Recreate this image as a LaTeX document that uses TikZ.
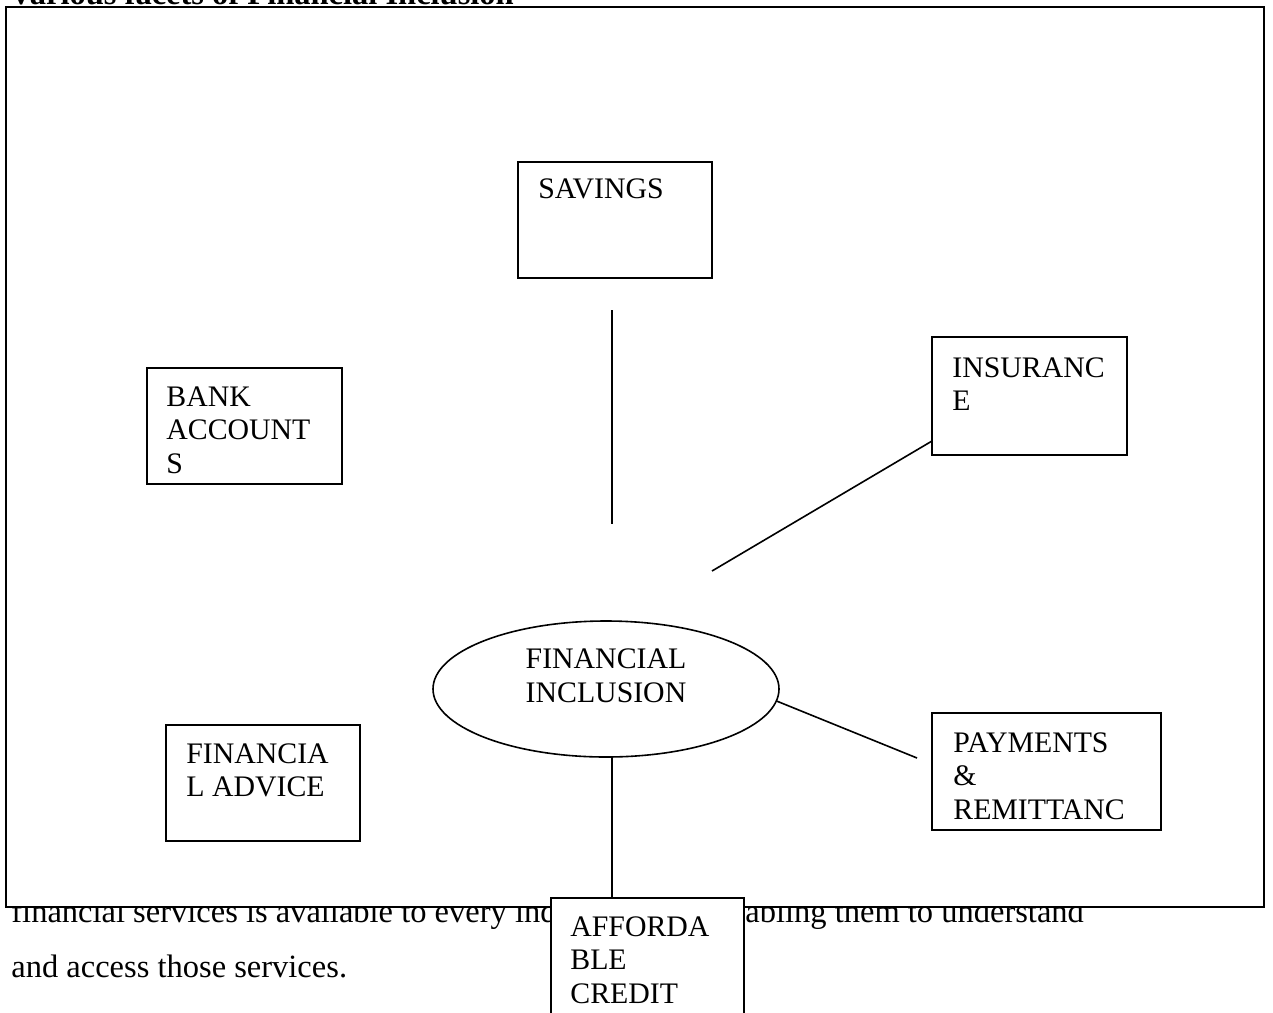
\documentclass[tikz,border=0pt]{standalone}
\usepackage{fontspec}
\setmainfont{Liberation Serif}
\usetikzlibrary{shapes.geometric,positioning}
\tikzset{
  facet/.style={draw,line width=0.8pt,fill=white,inner sep=0pt,outer sep=0pt,anchor=north west},
  facettext/.style={inner sep=0pt,align=left,font=\fontsize{14.9pt}{16.75pt}\selectfont},
  hub/.style={ellipse,draw,line width=0.8pt,inner sep=0pt,outer sep=0pt,
    minimum width=173pt,minimum height=68pt},
  bodytext/.style={inner sep=0pt,anchor=base west,font=\fontsize{16.25pt}{19pt}\selectfont},
  link/.style={line width=0.8pt}
}
\begin{document}
\begin{tikzpicture}[x=0.5pt,y=-0.5pt]
\useasboundingbox (0,0) rectangle (1273,1012);
% heading, only its foot is on the page
\node[bodytext,font=\fontsize{16.25pt}{19pt}\selectfont\bfseries] (title) at (9,4)
	{Various facets of Financial Inclusion};
% running text under the frame
\node[bodytext] (paraA) at (11,922) {financial services is available to every ind};
\node[bodytext] (paraB) at (745,922) {abling them to understand};
\node[bodytext] (paraC) at (11,977) {and access those services.};

\draw[fill=white,line width=1pt] (6,7) rectangle (1264,907);

% the facets
\node[facet,minimum width=97pt,minimum height=58pt] (sav) at (518,162) {};
\node[facettext,below right=8pt and 10pt of sav.north west] (savtxt) {SAVINGS};
\node[facet,minimum width=97.5pt,minimum height=58pt] (bank) at (147,368) {};
\node[facettext,below right=9pt and 9.5pt of bank.north west] (banktxt) {BANK\\ACCOUNT\\S};
\node[facet,minimum width=97.5pt,minimum height=59pt] (ins) at (932,337) {};
\node[facettext,below right=10pt and 10pt of ins.north west] (instxt) {INSURANC\\E};
\node[facet,minimum width=97pt,minimum height=58pt] (advice) at (166,725) {};
\node[facettext,below right=9pt and 10pt of advice.north west] (advicetxt) {FINANCIA\\L ADVICE};
\node[facet,minimum width=114.5pt,minimum height=58.5pt] (pay) at (932,713) {};
\node[facettext,below right=9.5pt and 10.5pt of pay.north west] (paytxt) {PAYMENTS\\\&\\REMITTANC};

\node[hub] (incl) at (606,689) {};
\node[facettext] (incltxt) at ([yshift=6.5pt]incl.center) {FINANCIAL\\INCLUSION};

\coordinate (savfoot) at (612,310);
\coordinate (inclhead) at (612,524);
\draw[link] (savfoot) -- (inclhead);
\coordinate (insfoot) at (712,571);
\draw[link] (insfoot) -- ([yshift=7pt]ins.south west);
\coordinate (payfoot) at (917,758);
\draw[link] (incl.-4) -- (payfoot);

\node[facet,minimum width=96.5pt,minimum height=70pt] (aff) at (551,898) {};
\node[facettext,below right=9pt and 9.5pt of aff.north west] (afftxt) {AFFORDA\\BLE\\CREDIT};
\draw[link] ([xshift=3pt]incl.south) -- ([xshift=3pt]incl.south |- aff.north);
\end{tikzpicture}
\end{document}
